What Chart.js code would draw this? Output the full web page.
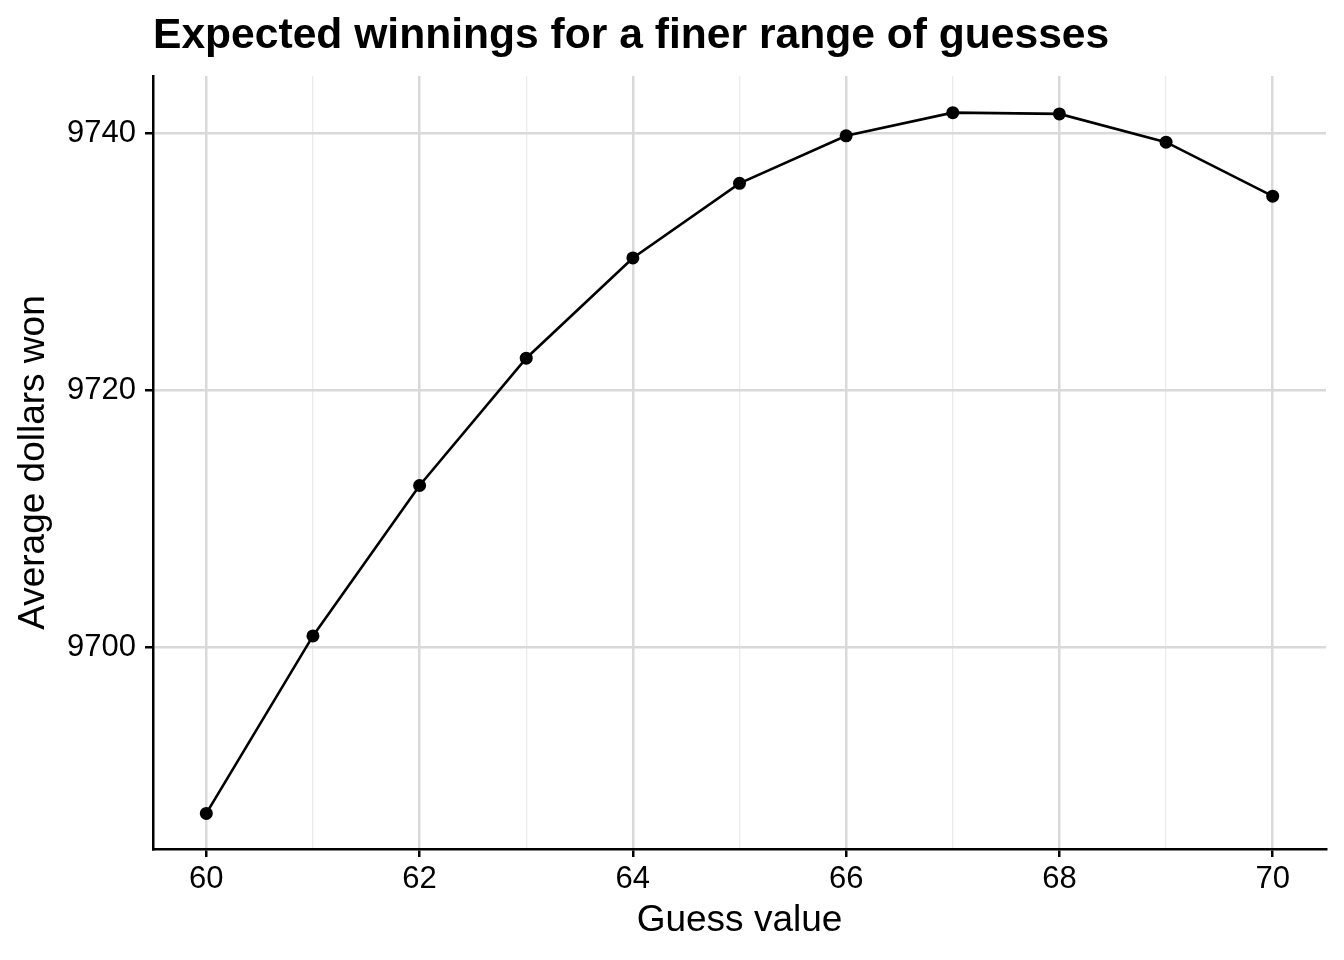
<!DOCTYPE html>
<html>
<head>
<meta charset="utf-8">
<script src="https://cdn.jsdelivr.net/npm/chart.js@4/dist/chart.umd.min.js"></script>
<style>
  html, body { margin: 0; padding: 0; background: #fff; }
  #wrap { width: 1344px; height: 960px; }
</style>
</head>
<body>
<div id="wrap"><canvas id="chart" width="1344" height="960"></canvas></div>
<script>
// values
const guesses = [60, 61, 62, 63, 64, 65, 66, 67, 68, 69, 70];
const winnings = [9687.1, 9700.9, 9712.6, 9722.5, 9730.3, 9736.1, 9739.8, 9741.6, 9741.5, 9739.3, 9735.1];
const xTicks = [60, 61, 62, 63, 64, 65, 66, 67, 68, 69, 70];
const yTicks = [9700, 9720, 9740];

const FONT = '"Liberation Sans", Arial, Helvetica, sans-serif';
const isMajor = v => v % 2 === 0;

new Chart(document.getElementById('chart'), {
  type: 'line',
  data: {
    datasets: [{
      data: guesses.map((g, i) => ({ x: g, y: winnings[i] })),
      borderColor: '#000',
      backgroundColor: '#000',
      borderWidth: 2.6,
      pointRadius: 6.5,
      pointBorderWidth: 0,
      tension: 0
    }]
  },
  options: {
    responsive: false,
    animation: false,
    layout: { padding: { left: 0, right: 18, top: 0, bottom: 0 } },
    plugins: {
      legend: { display: false },
      tooltip: { enabled: false },
      title: {
        display: true,
        text: 'Expected winnings for a finer range of guesses',
        align: 'start',
        fullSize: false,
        color: '#000',
        font: { family: FONT, size: 42.6, weight: 'bold' },
        padding: { top: 11, bottom: 14 }
      }
    },
    scales: {
      x: {
        type: 'linear',
        min: 59.5,
        max: 70.5,
        afterBuildTicks: s => { s.ticks = xTicks.map(v => ({ value: v })); },
        afterFit: s => { s.height = 111; },
        grid: {
          color: c => isMajor(c.tick.value) ? '#d9d9d9' : '#ebebeb',
          lineWidth: c => isMajor(c.tick.value) ? 2.5 : 1.3,
          tickColor: c => isMajor(c.tick.value) ? '#000' : 'rgba(0,0,0,0)',
          tickLength: 8,
          tickWidth: 2.5
        },
        border: { color: '#000', width: 2.5 },
        ticks: {
          color: '#000',
          padding: 4,
          font: { family: FONT, size: 31 },
          maxRotation: 0,
          autoSkip: false,
          callback: v => isMajor(v) ? String(v) : ''
        },
        title: {
          display: true,
          text: 'Guess value',
          color: '#000',
          font: { family: FONT, size: 37 },
          padding: { top: 0, bottom: 17 }
        }
      },
      y: {
        type: 'linear',
        min: 9684.33,
        max: 9744.44,
        afterBuildTicks: s => { s.ticks = yTicks.map(v => ({ value: v })); },
        afterFit: s => { s.width = 153; },
        grid: {
          color: '#d9d9d9',
          lineWidth: 2.5,
          tickColor: '#000',
          tickLength: 8,
          tickWidth: 2.5
        },
        border: { color: '#000', width: 2.5 },
        ticks: {
          color: '#000',
          padding: 9,
          font: { family: FONT, size: 31 },
          autoSkip: false,
          callback: v => String(v)
        },
        title: {
          display: true,
          text: 'Average dollars won',
          color: '#000',
          font: { family: FONT, size: 37 },
          padding: { top: 12, bottom: 0 }
        }
      }
    }
  }
});
</script>
</body>
</html>
